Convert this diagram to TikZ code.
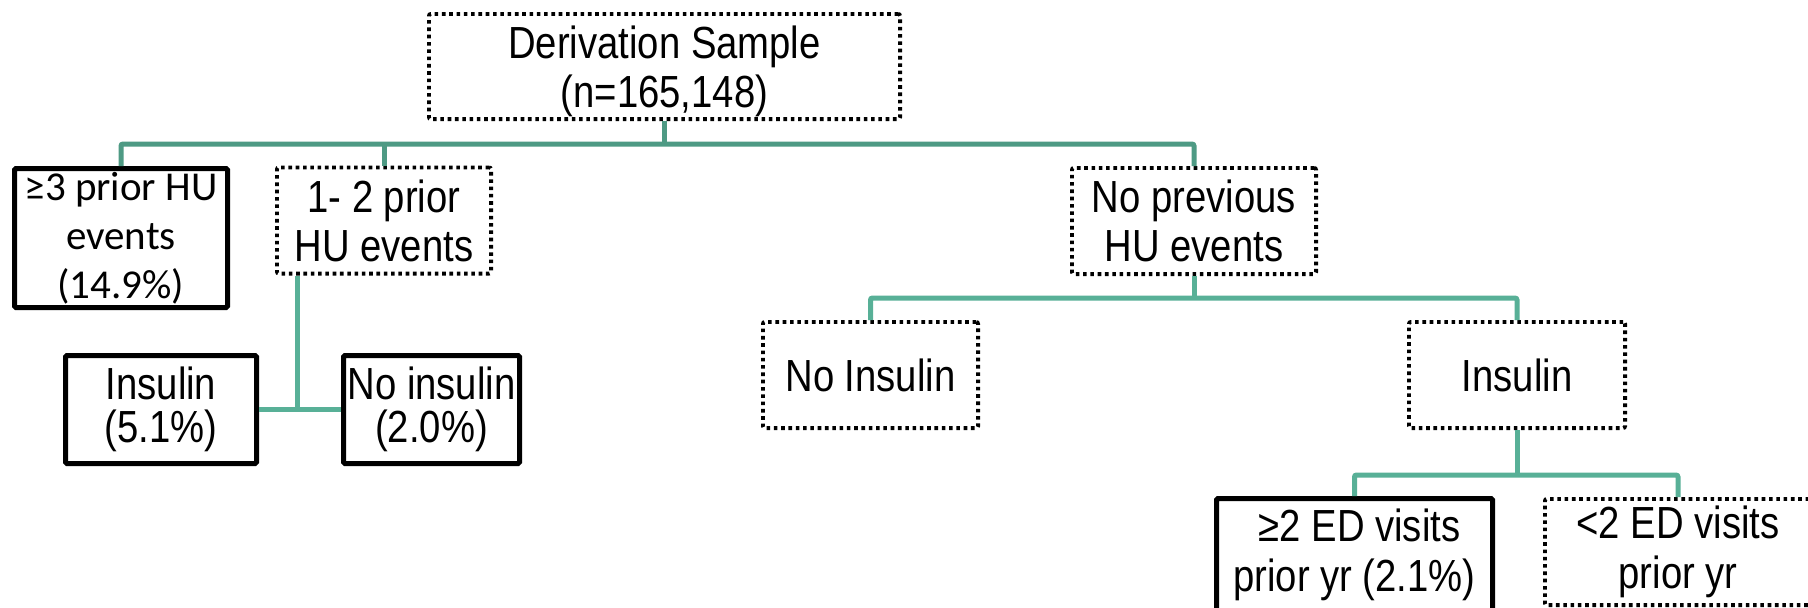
\documentclass[tikz,border=0pt]{standalone}
\usepackage{fontspec}
\setmainfont{Liberation Sans}[FakeStretch=0.85]
\newfontfamily\calibfont{Carlito}
\usetikzlibrary{calc}
\definecolor{busdark}{RGB}{78,154,132}
\definecolor{buslight}{RGB}{88,176,151}
\begin{document}
\begin{tikzpicture}[x=1pt,y=-1pt,
  dotbox/.style={draw, line width=3.8pt, dash pattern=on 3.6pt off 3.7pt,
    rounded corners=2pt, inner sep=0pt, align=center,
    font=\fontsize{45}{49}\selectfont},
  solidbox/.style={draw, line width=5pt, rounded corners=1.5pt,
    inner sep=0pt, align=center, font=\fontsize{45}{49}\selectfont},
  conn/.style={draw=buslight, line width=5pt, rounded corners=2pt},
  conndark/.style={conn, draw=busdark}]
\clip (0,0) rectangle (1808,608);
\fill[white] (0,0) rectangle (1808,608);

% tree nodes
\node[dotbox, minimum width=471.2pt, minimum height=105.2pt, text depth=0pt]
  (deriv) at (664.5,66.5) {Derivation Sample\\(n=165,148)};
\node[solidbox, minimum width=213pt, minimum height=139pt,
  font=\calibfont\fontsize{41}{49}\selectfont]
  (ge3) at (121,238) {≥3 prior HU\\events\\(14.9\%)};
\node[dotbox, minimum width=214.2pt, minimum height=106.2pt]
  (onetwo) at (384,220.5) {1- 2 prior\\HU events};
\node[dotbox, minimum width=244.2pt, minimum height=106.2pt]
  (noprev) at (1194,221) {No previous\\HU events};
\node[solidbox, minimum width=191pt, minimum height=108pt,
  font=\fontsize{45}{43}\selectfont]
  (insL) at (161,409.5) {Insulin\\(5.1\%)};
\node[solidbox, minimum width=176pt, minimum height=108pt,
  font=\fontsize{45}{43}\selectfont]
  (noinsL) at (431.5,409.5) {No insulin\\(2.0\%)};
\node[dotbox, minimum width=215.2pt, minimum height=106.2pt]
  (noins) at (870.5,375) {No Insulin};
\node[dotbox, minimum width=216.2pt, minimum height=106.2pt]
  (insR) at (1517,375) {Insulin};
\node[solidbox, minimum width=276pt, minimum height=125pt,
  font=\fontsize{45}{50}\selectfont, text depth=21pt]
  (ge2) at (1354.5,561) {\hspace*{10pt}≥2 ED visits\\prior yr (2.1\%)};
\node[dotbox, minimum width=266.2pt, minimum height=106.2pt,
  font=\fontsize{45}{50}\selectfont]
  (lt2) at (1678,552) {<2 ED visits\\prior yr};

% bus levels
\coordinate (bus1) at (0,144);
\coordinate (bus2) at (0,298);
\coordinate (bus3) at (0,475);
\coordinate (j12) at (297,409);

% connectors
\draw[conndark] (ge3.north) -- (ge3.north |- bus1) -- (noprev.north |- bus1) -- (noprev.north);
\draw[conndark] (deriv.south) -- (deriv.south |- bus1);
\draw[conndark] (onetwo.north) -- (onetwo.north |- bus1);

\draw[conn] (onetwo.south -| j12) -- (j12);
\draw[conn] (insL.east) -- (noinsL.west);

\draw[conn] (noins.north) -- (noins.north |- bus2) -- (insR.north |- bus2) -- (insR.north);
\draw[conn] (noprev.south) -- (noprev.south |- bus2);

\draw[conn] (ge2.north) -- (ge2.north |- bus3) -- (lt2.north |- bus3) -- (lt2.north);
\draw[conn] (insR.south) -- (insR.south |- bus3);
\end{tikzpicture}
\end{document}
